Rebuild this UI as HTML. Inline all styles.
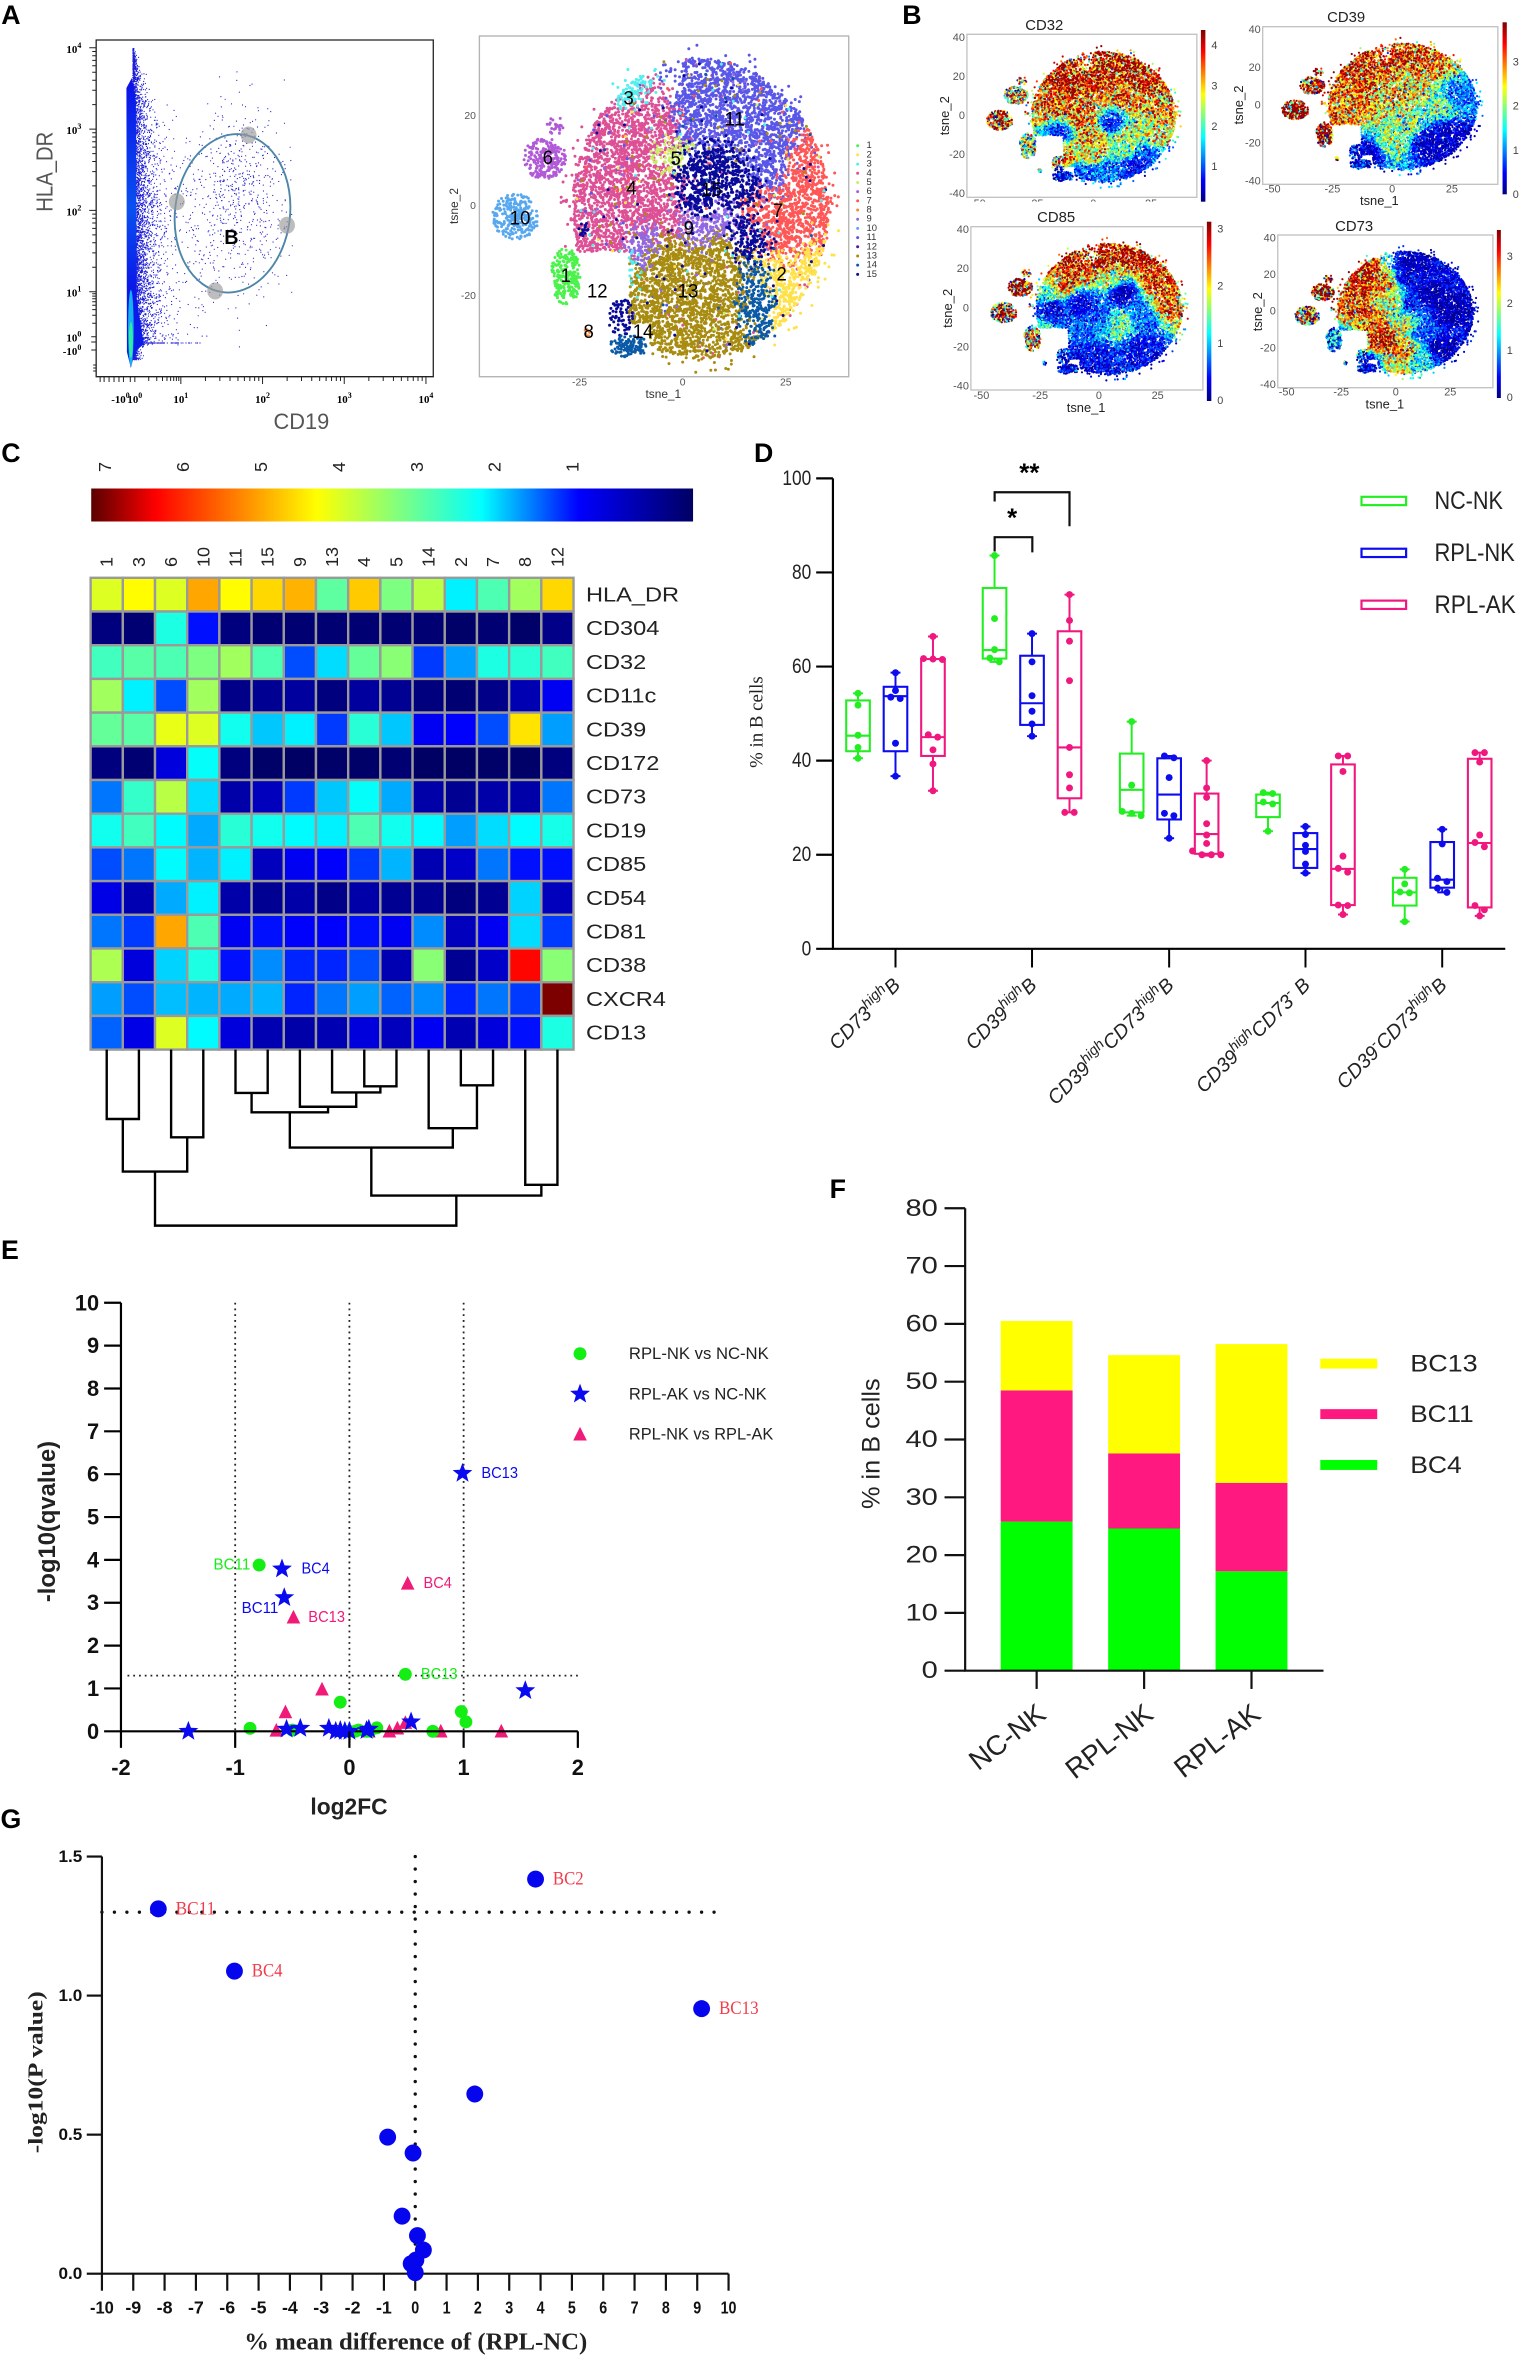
<!DOCTYPE html>
<html lang="en">
<head>
<meta charset="utf-8">
<title>B cell subset analysis figure</title>
<style>
html,body{margin:0;padding:0;background:#fff}
svg{display:block}
svg text{font-family:"Liberation Sans",sans-serif}
</style>
</head>
<body>
<svg id="fig" xmlns="http://www.w3.org/2000/svg" width="1525" height="2360" viewBox="0 0 1525 2360">
<rect x="0" y="0" width="1525" height="2360" fill="#fff"/>
<g id="panelA" transform="scale(.9915 1)"></g>
<g id="panelB" transform="translate(900 0) scale(.9915 1) translate(-900 0)"></g>
<g id="panelC" transform="scale(.9915 1)"></g>
<g id="panelD" transform="translate(720 440) scale(.9915) translate(-720 -440)"></g>
<g id="panelE" transform="translate(0 1230) scale(.9915) translate(0 -1230)"></g>
<g id="panelF" transform="translate(820 1170) scale(.9915) translate(-820 -1170)"></g>
<g id="panelG" transform="scale(.9915 1)"></g>
</svg>
<script>
/* ---------- data: panel A ---------- */
const tsneClusterIds = ['1','2','3','4','5','6','7','8','9','10','11','12','13','14','15'];
const tsneClusterColors = ['#4cf24c','#ffe24a','#4ff0f0','#de5096','#c9ee62','#b05ad8','#ff5656','#f08a40','#9068e6','#58a8f0','#5a56e8','#4a1a9a','#a88c10','#0a5aa8','#0a0a9a'];
/* seed regions inside the main t-SNE cloud: cluster index, tsne_1, tsne_2.
   Individual dots are a seeded texture sampled around these estimated regions. */
const tsneSeeds = [[10,12.6,20.7],[10,5.7,29.6],[10,19.6,16.3],[10,4.3,20],[10,14,29],[10,22,8],
[3,-13.7,6.7],[3,-16.5,14],[3,-12.4,-2.2],[3,-20.7,1.5],[3,-5.4,3.7],[3,-11,19.3],[3,-19.3,-8.1],[3,-4,-4],[3,-6,17],
[2,-13,26.7],[2,-16.5,-13.3],[4,-3.3,11.9],
[14,7,6.7],[14,14,3.7],[14,3.6,3.7],[14,15.4,-5.2],
[6,24.4,-.7],[6,29.3,6.7],[6,26.5,-7.4],[6,18.2,-1.5],[1,24.4,-16.3],[1,29.3,-13.3],
[12,.8,-18.5],[12,1.5,-25],[12,-8.2,-19.3],[12,9.9,-17],[12,-4,-9.6],[12,8.5,-11],
[8,2.9,-4.4],[8,10.6,-3.7],[8,-8.9,-7.4],[13,18.2,-18.5]];
/* relative region tightness per cluster index (higher means a smaller region) */
const tsneClusterTightness = [1,1.1,2.4,1,3.2,1,1,1,1.7,1,1,1,1,1.7,1.1];
/* separated islands: cluster index, tsne_1, tsne_2, radius x, radius y, count */
const tsneIslands = [[9,-40.5,-2.2,5.5,4.8,260],[5,-33.5,10.7,5,4.3,220],[5,-31,18,2,2,25],[0,-28.3,-15.5,3.5,6,240],
[13,-13,-31,4.5,2.5,120],[14,-15,-24.5,3,4,70],[7,-23,-28,.8,.8,10],[14,-24,-5,1.2,1.5,14]];
const tsneClusterLabels = [['1',-28.3,-15.5],['2',24,-15.2],['3',-13.1,23.9],['4',-12.4,3.9],['5',-1.7,10.5],['6',-32.7,10.7],['7',23.1,-1.1],['8',-22.8,-27.9],['9',1.5,-5],['10',-39.4,-2.7],['11',12.6,19.3],['12',-20.7,-18.9],['13',1.3,-18.9],['14',-9.6,-27.9],['15',7,3.6]];
const tsneAxisTicksX = [-25,0,25];
const tsneAxisTicksY = [20,0,-20];
const flowDecades = [-1,0,1,2,3,4];
/* ---------- data: panel B, expression anchors (tsne_1, tsne_2, scaled expression) ---------- */
const cd32Field = [[12,28,.9],[25,18,.84],[-5,22,.8],[-10,20,.9],[-20,5,.76],[15,10,.72],[28,5,.66],[-5,0,.72],[-15,-9,.15],[8,-4,.12],[0,-10,.66],[15,-10,.52],[28,-10,.52],[-13,-20,.68],[0,-20,.56],[15,-17,.42],[22,-20,.15],[18,-25,.1],[-5,-30,.15],[5,-28,.2],[-13,-32,.05],[-40.5,-2,.68],[-33.5,10.7,.52],[-28.3,-15,.42]];
const cd39Field = [[5,28,.8],[15,25,.75],[0,5,.62],[20,0,.42],[25,-15,.05],[28,5,.2],[-10,-25,.05],[15,-20,.05],[0,-20,.45],[-15,10,.72],[-15,25,.88],[8,12,.6],[-22,0,.68],[5,-10,.45],[22,-25,.05],[-40.5,-2,.98],[-33.5,10.7,.78],[-28.3,-15,.72]];
const cd85Field = [[0,25,.88],[15,28,.92],[25,15,.82],[30,0,.7],[-10,22,.85],[-15,12,.78],[-20,8,.4],[-20,0,.08],[-8,3,.08],[0,-5,.15],[8,-8,.42],[10,8,.05],[20,-5,.2],[20,-20,.08],[0,-25,.1],[-12,-30,.05],[5,15,.5],[-40.5,-2,.66],[-33.5,10.7,.82],[-28.3,-15,.48]];
const cd73Field = [[-15,20,.88],[-18,5,.74],[-5,15,.68],[0,5,.48],[-10,-5,.7],[-5,-15,.82],[5,-20,.68],[12,-25,.3],[0,-28,.55],[-12,-30,.05],[8,25,.03],[15,10,.02],[25,0,.02],[20,-20,.02],[6,5,.12],[5,18,.08],[3,-8,.5],[12,-12,.15],[-40.5,-2,.58],[-33.5,10.7,.92],[-28.3,-15,.2]];
/* ---------- data: panel C ---------- */
const heatColumns = ['1','3','6','10','11','15','9','13','4','5','14','2','7','8','12'];
const heatRows = ['HLA_DR','CD304','CD32','CD11c','CD39','CD172','CD73','CD19','CD85','CD54','CD81','CD38','CXCR4','CD13'];
const heatValues = [
[4.0,4.3,4.0,5.0,4.3,4.6,4.9,2.95,4.7,3.2,3.7,2.1,2.8,3.5,4.6],
[-.3,-.4,2.4,1.0,-.3,-.4,-.4,-.4,-.4,-.4,-.4,-.5,-.4,-.5,-.2],
[2.7,2.9,2.8,3.2,3.5,2.8,1.3,2.0,3.0,3.3,1.2,1.7,2.4,2.5,2.7],
[3.5,2.1,1.3,3.5,-.2,-.1,0,-.3,0,-.1,-.3,-.4,-.2,.2,.8],
[3.0,2.9,4.1,4.0,2.3,1.9,2.1,1.2,2.5,1.9,.8,.9,1.3,4.5,1.7],
[-.3,-.4,.6,2.2,-.3,-.5,-.6,-.5,-.5,-.4,-.6,-.6,-.5,-.5,-.3],
[1.5,2.6,3.7,2.0,.1,.3,1.2,1.9,2.2,1.75,.1,-.1,.1,.1,1.5],
[2.3,2.7,2.15,1.75,2.5,2.3,2.15,2.1,2.8,2.3,2.15,1.7,2.0,2.15,2.35],
[1.3,1.5,2.15,1.8,2.1,.3,.8,.9,1.2,1.8,.2,.4,1.5,1.0,1.0],
[.7,.2,1.75,2.1,.1,-.1,.1,-.2,.1,-.1,-.1,-.3,-.1,1.95,.3],
[1.5,1.2,5.0,2.8,.8,1.0,.9,.9,1.0,.8,1.6,.3,.8,2.0,1.2],
[3.6,.6,1.95,2.4,1.0,1.6,1.1,1.1,1.3,.2,3.3,-.1,.4,6.3,3.3],
[1.7,1.3,1.85,1.8,1.75,1.8,1.1,1.5,1.7,1.4,1.6,1.1,1.5,1.2,7.0],
[1.4,.7,4.0,2.15,.6,.2,.1,.2,.6,.3,.8,.2,.6,1.0,2.4]];
const heatLegendTicks = [7,6,5,4,3,2,1];
/* dendrogram merges: left node, right node, distance (node 15+i is merge i) */
const dendroMerges = [[0,1,136],[2,3,172],[15,16,239],[4,5,85],[8,9,72],[7,19,84],[6,20,112],[18,21,123],[11,12,70],[10,23,154],[22,24,192],[13,14,265],[25,26,286],[17,27,345]];
/* ---------- data: panel D ---------- */
const boxCategories = ['CD73^high^B','CD39^high^B','CD39^high^CD73^high^B','CD39^high^CD73^-^ B','CD39^-^CD73^high^B'];
const boxGroups = ['NC-NK','RPL-NK','RPL-AK'];
const boxTicks = [0,20,40,60,80,100];
/* per category, per group: whisker low, q1, median, q3, whisker high */
const boxStats = [
[[40.5,42,45.3,52.8,54.3],[36.7,42,53.7,55.7,58.7],[33.6,41,45,61.6,66.4]],
[[61,61.7,63.5,76.7,83.6],[45.2,47.6,52.2,62.3,67],[29,32,42.8,67.5,75.3]],
[[28.3,29,33.8,41.5,48.3],[23.5,27.5,32.8,40.5,41],[19.8,20.2,24.4,33,40]],
[[25,28,31,32.8,33.2],[16.1,17.2,21.2,24.6,26],[7.3,9.3,17,39.2,41]],
[[5.8,9.2,12,15.1,16.9],[12,13,14.7,22.7,25.4],[7,8.8,22.5,40.4,41.7]]];
const boxPoints = [
[[54.3,51.8,45.4,42.8,40.5],[58.7,54.9,53.5,53.2,43.7,36.7],[66.4,61.7,61.6,61.5,45.5,45,42.3,39.3,33.6]],
[[83.6,70.2,63.6,61.8,61],[67,61,53.8,50.5,47.8,45.2],[75.3,69.8,65.4,57,42.8,37,34.2,29,29]],
[[48.3,34.8,29.2,28.8,28.3],[41,40.6,36.4,28.8,28.3,23.5],[40,34.2,32.2,26.6,24.2,22.4,20.8,20,20,20]],
[[33.2,33,31.2,30.8,25],[26,24.3,22,20.7,18,16.1],[41,41,37.7,19.7,17.1,16.3,9.3,9.2,7.3]],
[[16.9,13.8,12.1,11.9,5.8],[25.4,22.3,15,14.3,12.9,12],[41.7,41.7,39.7,24.2,22.6,21.7,9.2,8.3,7]]];
/* ---------- data: panel E ---------- */
const volcanoTicksX = [-2,-1,0,1,2];
const volcanoTicksY = [0,1,2,3,4,5,6,7,8,9,10];
const volcanoCutoffsX = [-1,0,1];
const volcanoCutoffY = 1.3;
const greenX = [-.79,-.87,-.08,.49,.98,1.02,.73,.24,.08,.05,-.5,.18,0,.15];
const greenY = [3.88,.07,.68,1.33,.46,.22,0,.08,.03,0,.03,0,0,0];
const starX = [.99,-.59,-.57,1.54,.54,-1.41,-.55,-.43,-.18,-.12,-.08,-.04,0,.15,.17];
const starY = [6.02,3.79,3.12,.95,.22,0,.05,.07,.07,0,.02,0,0,.02,.05];
const triX = [.51,-.49,-.24,-.56,.49,.42,.35,.8,1.33,-.64,.17];
const triY = [3.45,2.66,.98,.45,.2,.07,0,0,0,.02,0];
const greenLabels = [[0,'BC11','end',-9,0],[3,'BC13','start',15.6,0]];
const starLabels = [[1,'BC4','start',19.6,0],[0,'BC13','start',19,0],[2,'BC11','end',-6,11]];
const triLabels = [[0,'BC4','start',16,0],[1,'BC13','start',15,0]];
/* ---------- data: panel F ---------- */
const stackCategories = ['NC-NK','RPL-NK','RPL-AK'];
const stackBC4 = [25.8,24.6,17.2];
const stackBC11 = [22.7,13,15.3];
const stackBC13 = [12,17,24];
const stackTicks = [0,10,20,30,40,50,60,70,80];
/* ---------- data: panel G ---------- */
const meanDiffX = [3.84,-8.2,-5.77,9.14,1.9,-.88,-.07,-.42,.07,.26,.02,-.13,0];
const meanDiffY = [1.419,1.312,1.088,.953,.646,.491,.434,.207,.137,.085,.049,.036,.004];
const meanDiffLabels = ['BC2','BC11','BC4','BC13'];
const meanDiffTicksX = [-10,-9,-8,-7,-6,-5,-4,-3,-2,-1,0,1,2,3,4,5,6,7,8,9,10];
const meanDiffTicksY = ['0.0','0.5','1.0','1.5'];

/* ---------- helpers ---------- */
const NS = 'http://www.w3.org/2000/svg';
const fig = document.getElementById('fig');
function mk(tag, attrs, parent) {
  const e = document.createElementNS(NS, tag);
  for (const k in attrs) e.setAttribute(k, attrs[k]);
  parent.appendChild(e);
  return e;
}
function T(parent, str, x, y, o) {
  o = o || {};
  const a = {x: x, y: y, 'font-size': o.size || 12, fill: o.fill || '#000', 'text-anchor': o.anchor || 'middle', 'dominant-baseline': o.base || 'central'};
  if (o.weight) a['font-weight'] = o.weight;
  if (o.style) a['font-style'] = o.style;
  if (o.family) a['style'] = 'font-family:' + o.family;
  if (o.width) { a.textLength = o.width; a.lengthAdjust = 'spacingAndGlyphs'; }
  if (o.rot) a.transform = 'rotate(' + o.rot + ' ' + x + ' ' + y + ')';
  const e = mk('text', a, parent);
  e.textContent = str;
  return e;
}
function seeded(s) {
  return function () {
    s |= 0; s = s + 0x6D2B79F5 | 0;
    let t = Math.imul(s ^ s >>> 15, 1 | s);
    t = t + Math.imul(t ^ t >>> 7, 61 | t) ^ t;
    return ((t ^ t >>> 14) >>> 0) / 4294967296;
  };
}
const SERIF = '"Liberation Serif",serif';
const pA = document.getElementById('panelA'), pB = document.getElementById('panelB'), pC = document.getElementById('panelC'),
      pD = document.getElementById('panelD'), pE = document.getElementById('panelE'), pF = document.getElementById('panelF'), pG = document.getElementById('panelG');
function letter(parent, ch, x, y) {
  const e = T(parent, ch, x, y, {size: 27, weight: 'bold'});
  
  
}
letter(pA, 'A', 11, 15); letter(pB, 'B', 912, 15); letter(pC, 'C', 11, 453);
letter(pD, 'D', 764, 453); letter(pE, 'E', 10, 1250); letter(pF, 'F', 838, 1189); letter(pG, 'G', 11, 1819);

/* ---------- shared t-SNE embedding texture (seeded, not read dot by dot) ---------- */
const rnd = seeded(20240);
const tsnePts = [];
(function () {
  const cx = 4.3, cy = -.4, rx = 32, ry = 34.4;
  let made = 0;
  while (made < 9500) {
    const ang = rnd() * Math.PI * 2, r = Math.sqrt(rnd()) * (rnd() < .93 ? .97 : 1.06);
    const x = cx + Math.cos(ang) * r * rx, y = cy + Math.sin(ang) * r * ry;
    if (y < -10 && x < -13) continue;
    if (y < -26 && x < -8) continue;
    if (y > 23 && x < 0 && !(x < -7 && x > -17 && y < 29) && rnd() < .7) continue;
    const qx = x + (rnd() - .5) * 5, qy = y + (rnd() - .5) * 5;
    let best = 0, bd = 1e9;
    tsneSeeds.forEach(function (s) {
      const d = ((s[1] - qx) * (s[1] - qx) + (s[2] - qy) * (s[2] - qy)) * tsneClusterTightness[s[0]];
      if (d < bd) { bd = d; best = s[0]; }
    });
    if (rnd() < .06) best = tsneSeeds[Math.floor(rnd() * tsneSeeds.length)][0];
    tsnePts.push([x, y, best, 0]);
    made++;
  }
  tsneIslands.forEach(function (c) {
    for (let i = 0; i < c[5]; i++) {
      const a = rnd() * Math.PI * 2, r = Math.pow(rnd(), .6) * 1.05;
      tsnePts.push([c[1] + Math.cos(a) * r * c[3], c[2] + Math.sin(a) * r * c[4], c[0], 1]);
    }
  });
})();

/* ---------- panel A: flow gate ---------- */
const flowG = mk('g', {}, pA);


function flowX(d) { return d >= 1 ? 182.4 + (d - 1) * 82.4 : d >= 0 ? 136 + d * 46.4 : 136 + d * 11.5; }
function flowY(d) { return d >= 1 ? 291.7 - (d - 1) * 81.3 : d >= 0 ? 336.7 - d * 45 : 336.7 - d * 13.3; }
(function () {
  const r = seeded(77);
  const gradDefs = mk('defs', {}, flowG);
  const lg = mk('linearGradient', {id: 'flowCol', x1: 0, y1: 0, x2: 0, y2: 1}, gradDefs);
  [[0, '#0a10e8'], [.45, '#0a50f0'], [.72, '#0a18e8'], [1, '#0a20e8']].forEach(function (s) { mk('stop', {offset: s[0], 'stop-color': s[1]}, lg); });
  let d = '';
  for (let i = 0; i < 4200; i++) {
    const y = 48 + Math.pow(r(), .8) * 312;
    const taper = Math.min(1, (y - 45) / 100);
    const w = (y > 345 ? 2 : 9.5) * taper;
    const x = 134 + (-Math.log(1 - r() * .998)) * w;
    d += 'M' + x.toFixed(1) + ' ' + y.toFixed(1) + 'h.01';
  }
  for (let i = 0; i < 70; i++) d += 'M' + (147 + Math.pow(r(), 2) * 55).toFixed(1) + ' 343h.01';
  for (let i = 0; i < 45; i++) d += 'M' + (165 + r() * 45).toFixed(1) + ' ' + (110 + r() * 230).toFixed(1) + 'h.01';
  const streak = mk('path', {d: d, stroke: '#1c1cd8', 'stroke-width': 1.2, 'stroke-linecap': 'round', fill: 'none'}, flowG);
  
  
  const col = mk('path', {d: 'M127.5 88 L133 78 L137 100 L138 300 L145 344 L136 352 L132 368 L128 352 Z', fill: 'url(#flowCol)'}, flowG);
  
  
  const c1 = mk('ellipse', {cx: 132, cy: 328, rx: 2.8, ry: 38, fill: '#18b0f0'}, flowG);
  
  
  const c2 = mk('ellipse', {cx: 132, cy: 340, rx: 2, ry: 18, fill: '#30f0a0'}, flowG);
  
  
  let gd = '';
  const g = function () { return (r() + r() + r() - 1.5) / .5; };
  for (let i = 0; i < 340; i++) gd += 'M' + (243 + g() * 20).toFixed(1) + ' ' + (172 + g() * 38).toFixed(1) + 'h.01';
  for (let i = 0; i < 320; i++) gd += 'M' + (228 + g() * 30).toFixed(1) + ' ' + (228 + g() * 40).toFixed(1) + 'h.01';
  for (let i = 0; i < 30; i++) gd += 'M' + (180 + r() * 90).toFixed(1) + ' ' + (100 + r() * 250).toFixed(1) + 'h.01';
  const gated = mk('path', {d: gd, stroke: '#2424c8', 'stroke-width': 1.2, 'stroke-linecap': 'round', fill: 'none'}, flowG);
  
  
  const box = mk('path', {d: 'M97 376.7V40H437V376.7Z', fill: 'none', stroke: '#222', 'stroke-width': 1.3}, flowG);
  
  
  const gate = mk('ellipse', {cx: 234.5, cy: 213.3, rx: 58, ry: 79.5, fill: 'none', stroke: '#4d86a8', 'stroke-width': 1.9, transform: 'rotate(7 234.5 213.3)'}, flowG);
  
  
  [[250.7, 135], [217, 291], [178.3, 201.7], [289.5, 225.3]].forEach(function (h, i) {
    const e = mk('ellipse', {cx: h[0], cy: h[1], rx: 8, ry: 8.5, fill: '#9a9a9a', 'fill-opacity': .65}, flowG);
    
    
  });
  const bl = T(flowG, 'B', 233.4, 238, {size: 20, weight: 'bold'});
  
  
  /* axis ticks */
  let tk = '';
  for (let dec = 0; dec < 4; dec++) for (let k = 2; k <= 10; k++) {
    const v = dec + Math.log10(k);
    const x = flowX(v), y = flowY(v);
    const len = k === 10 ? 7 : 4;
    tk += 'M' + x.toFixed(1) + ' 377v' + len + 'M97 ' + y.toFixed(1) + 'h-' + len;
  }
  [-1, -.4, 0].forEach(function (v) { tk += 'M' + flowX(v).toFixed(1) + ' 377v5M97 ' + flowY(v).toFixed(1) + 'h-5'; });
  [365, 368, 371].forEach(function (y) { tk += 'M97 ' + y + 'h-3'; });
  [101, 105, 110, 115, 120].forEach(function (x) { tk += 'M' + x + ' 377v5'; });
  const ticks = mk('path', {d: tk, stroke: '#222', 'stroke-width': 1, fill: 'none'}, flowG);
  
  
  flowDecades.forEach(function (d) {
    const lab = (d < 0 ? '-' : '') + '10', p = d < 0 ? 0 : d;
    const xt = mk('text', {x: flowX(d) + (d < 0 ? -3 : 0), y: 403, 'font-size': 11, 'font-weight': 'bold', 'text-anchor': 'middle', style: 'font-family:' + SERIF}, flowG);
    xt.textContent = lab;
    const xs = mk('tspan', {dy: -5, 'font-size': 8}, xt); xs.textContent = p;
    
    
    const yt = mk('text', {x: 82, y: flowY(d) + 5, 'font-size': 11, 'font-weight': 'bold', 'text-anchor': 'end', style: 'font-family:' + SERIF}, flowG);
    yt.textContent = lab;
    const ys = mk('tspan', {dy: -5, 'font-size': 8}, yt); ys.textContent = p;
    
    
  });
  const xl = T(flowG, 'CD19', 304, 421.7, {size: 22, fill: '#555'});
  
  
  const yl = T(flowG, 'HLA_DR', 45, 171.7, {size: 23, fill: '#555', rot: -90, width: 80});
  
  
})();

/* ---------- panel A: t-SNE clusters ---------- */
const tsneA = mk('g', {}, pA);


function ax(v) { return 688.5 + 4.16 * v; }
function ay(v) { return 206.7 - 4.5 * v; }
(function () {
  const frame = mk('rect', {x: 483.5, y: 36, width: 372.5, height: 340.7, fill: 'none', stroke: '#b5b5b5', 'stroke-width': 1.4}, tsneA);
  
  
  const paths = tsneClusterIds.map(function () { return ''; });
  tsnePts.forEach(function (p) { paths[p[2]] += 'M' + ax(p[0]).toFixed(1) + ' ' + ay(p[1]).toFixed(1) + 'h.01'; });
  [3, 10, 6, 12, 1, 4, 8, 14, 13, 2, 5, 9, 0, 7, 11].forEach(function (i) {
    const e = mk('path', {d: paths[i], stroke: tsneClusterColors[i], 'stroke-width': 3, 'stroke-linecap': 'round', fill: 'none'}, tsneA);
    
    
  });
  tsneAxisTicksX.forEach(function (v) {
    const e = T(tsneA, String(v), ax(v), 383, {size: 10.5, fill: '#555'});
    
    
  });
  tsneAxisTicksY.forEach(function (v) {
    const e = T(tsneA, String(v), 480, ay(v), {size: 10.5, fill: '#555', anchor: 'end'});
    
    
  });
  const x1 = T(tsneA, 'tsne_1', 669, 394, {size: 12, fill: '#333'});
  
  
  const y1 = T(tsneA, 'tsne_2', 458, 206, {size: 12, fill: '#333', rot: -90});
  
  
  tsneClusterLabels.forEach(function (l) {
    const e = T(tsneA, l[0], ax(l[1]), ay(l[2]), {size: 19, fill: '#000', width: l[0].length * 10.4});
    
    
  });
  tsneClusterIds.forEach(function (id, i) {
    const y = 145.7 + i * 9.19;
    const d = mk('circle', {cx: 865, cy: y, r: 1.5, fill: tsneClusterColors[i]}, tsneA);
    
    
    const t = T(tsneA, id, 874, y, {size: 9.5, fill: '#333', anchor: 'start'});
    
    
  });
})();

/* ---------- panel B: marker maps ---------- */
function jet(t) {
  t = Math.max(0, Math.min(1, t));
  const s = [[0, 0, 0, 127], [.125, 0, 0, 255], [.375, 0, 255, 255], [.625, 255, 255, 0], [.875, 255, 0, 0], [1, 127, 0, 0]];
  for (let i = 1; i < s.length; i++) if (t <= s[i][0]) {
    const f = (t - s[i - 1][0]) / (s[i][0] - s[i - 1][0]);
    return 'rgb(' + [1, 2, 3].map(function (k) { return Math.round(s[i - 1][k] + f * (s[i][k] - s[i - 1][k])); }).join(',') + ')';
  }
  return 'rgb(127,0,0)';
}
function fieldAt(field, x, y) {
  let n = 0, w = 0;
  for (let i = 0; i < field.length; i++) {
    const d = (field[i][0] - x) * (field[i][0] - x) + (field[i][1] - y) * (field[i][1] - y) + 1.5;
    const k = 1 / (d * d);
    n += k * field[i][2]; w += k;
  }
  return n / w;
}
const markerPanels = [
 {name: 'CD32', field: cd32Field, box: [967.5, 34.3, 1199.4, 197.3], x0: 1095, xs: 2.33, y0: 116, ys: 1.95, cb: [1203.5, 30, 1208, 201.7], cbTicks: [4, 3, 2, 1], cbZero: 207.5, cbStep: 40.33, title: [1045.5, 25.7], xt: 204, xTitle: null, yTitle: [945, 115.7], ymask: 201.7},
 {name: 'CD39', field: cd39Field, box: [1265.8, 26.7, 1503, 184.3], x0: 1396.4, xs: 2.41, y0: 105.7, ys: 1.89, cb: [1507.7, 22.3, 1512, 194.3], cbTicks: [3, 2, 1, 0], cbZero: 195, cbStep: 44.2, title: [1350, 17.3], xt: 189.5, xTitle: [1383.5, 200.7], yTitle: [1241.6, 105]},
 {name: 'CD85', field: cd85Field, box: [971.5, 226.7, 1205.5, 390], x0: 1100.6, xs: 2.37, y0: 308.3, ys: 1.96, cb: [1209.5, 221.7, 1214, 401], cbTicks: [3, 2, 1, 0], cbZero: 401, cbStep: 57.2, title: [1057.5, 217.3], xt: 396, xTitle: [1087.7, 407.3], yTitle: [948, 308.3]},
 {name: 'CD73', field: cd73Field, box: [1281, 235, 1498, 387.7], x0: 1400, xs: 2.2, y0: 311.7, ys: 1.83, cb: [1502, 230, 1506, 398], cbTicks: [3, 2, 1, 0], cbZero: 398, cbStep: 47, title: [1358, 226.7], xt: 392.7, xTitle: [1389, 404], yTitle: [1260.5, 311.7]}
];
const markerTicksX = [-50, -25, 0, 25];
const markerTicksY = [40, 20, 0, -20, -40];
markerPanels.forEach(function (m, mi) {
  const key = m.name.toLowerCase();
  const g = mk('g', {}, pB);
  
  
  const fr = mk('rect', {x: m.box[0], y: m.box[1], width: m.box[2] - m.box[0], height: m.box[3] - m.box[1], fill: 'none', stroke: '#c0c0c0', 'stroke-width': 1.3}, g);
  
  
  const r = seeded(500 + mi), levels = 20, batches = 3, buckets = [];
  for (let i = 0; i < levels * batches; i++) buckets.push('');
  tsnePts.forEach(function (p, pi) {
    const base = fieldAt(m.field, p[0], p[1]);
    const amp = p[3] ? .9 : .48;
    const n = (r() + r() + r() - 1.5) * amp * (.22 + base);
    const v = Math.max(0, Math.min(.999, base + n));
    const idx = Math.floor(v * levels) + levels * (pi % batches);
    buckets[idx] += 'M' + (m.x0 + m.xs * p[0]).toFixed(1) + ' ' + (m.y0 - m.ys * p[1]).toFixed(1) + 'h.01';
  });
  for (let b = 0; b < batches; b++) for (let l = 0; l < levels; l++) {
    const d = buckets[l + b * levels];
    if (!d) continue;
    const e = mk('path', {d: d, stroke: jet((l + .5) / levels), 'stroke-width': 2.2, 'stroke-linecap': 'round', fill: 'none'}, g);
    
    
  }
  const ti = T(g, m.name, m.title[0], m.title[1], {size: 15, fill: '#222'});
  
  
  markerTicksX.forEach(function (v) {
    const e = T(g, String(v), m.x0 + m.xs * v, m.xt, {size: 11, fill: '#555'});
    
    
  });
  markerTicksY.forEach(function (v) {
    const e = T(g, String(v), m.box[0] - 2, m.y0 - m.ys * v, {size: 11, fill: '#555', anchor: 'end'});
    
    
  });
  if (m.ymask) {
    const mask = mk('rect', {x: m.box[0] - 5, y: m.ymask, width: m.box[2] - m.box[0] + 20, height: 14, fill: '#fff'}, g);
    
    
  }
  if (m.xTitle) {
    const e = T(g, 'tsne_1', m.xTitle[0], m.xTitle[1], {size: 13, fill: '#222'});
    
    
  }
  const yt = T(g, 'tsne_2', m.yTitle[0], m.yTitle[1], {size: 13, fill: '#222', rot: -90});
  
  
  const gid = 'jet' + mi;
  const defs = mk('defs', {}, g);
  const lg = mk('linearGradient', {id: gid, x1: 0, y1: 1, x2: 0, y2: 0}, defs);
  for (let i = 0; i <= 8; i++) mk('stop', {offset: i / 8, 'stop-color': jet(i / 8)}, lg);
  const cb = mk('rect', {x: m.cb[0], y: m.cb[1], width: m.cb[2] - m.cb[0], height: m.cb[3] - m.cb[1], fill: 'url(#' + gid + ')'}, g);
  
  
  m.cbTicks.forEach(function (v) {
    const e = T(g, String(v), m.cb[2] + 6, m.cbZero - m.cbStep * v, {size: 11, fill: '#444', anchor: 'start'});
    
    
  });
});

/* ---------- panel C: heatmap ---------- */
const heatStops = [[0, 90, 0, 0], [.108, 255, 0, 0], [.375, 255, 255, 0], [.649, 0, 255, 255], [.81, 0, 0, 255], [1, 0, 0, 100]];
function heatFrac(v) { return .023 + (7 - v) * .1295; }
function heatColor(v) {
  const t = Math.max(0, Math.min(1, heatFrac(v)));
  for (let i = 1; i < heatStops.length; i++) if (t <= heatStops[i][0]) {
    const f = (t - heatStops[i - 1][0]) / (heatStops[i][0] - heatStops[i - 1][0]);
    return 'rgb(' + [1, 2, 3].map(function (k) { return Math.round(heatStops[i - 1][k] + f * (heatStops[i][k] - heatStops[i - 1][k])); }).join(',') + ')';
  }
  return 'rgb(0,0,100)';
}
(function () {
  const x0 = 91.4, y0 = 577.8, cw = 32.47, ch = 33.7;
  function cx(i) { return x0 + (i + .5) * cw; }
  const defs = mk('defs', {}, pC);
  const lg = mk('linearGradient', {id: 'heatLegend', x1: 0, y1: 0, x2: 1, y2: 0}, defs);
  heatStops.forEach(function (s) { mk('stop', {offset: s[0], 'stop-color': 'rgb(' + s[1] + ',' + s[2] + ',' + s[3] + ')'}, lg); });
  const bar = mk('rect', {x: 92, y: 488.5, width: 607, height: 33, fill: 'url(#heatLegend)'}, pC);
  
  
  heatLegendTicks.forEach(function (v) {
    const e = T(pC, String(v), 92 + 607 * heatFrac(v), 467, {size: 18, fill: '#222', rot: -90});
    
    
  });
  heatColumns.forEach(function (c, i) {
    const e = T(pC, c, cx(i), 567, {size: 18, fill: '#222', rot: -90, anchor: 'start'});
    
    
  });
  heatRows.forEach(function (rowName, r) {
    heatValues[r].forEach(function (v, c) {
      const cell = mk('rect', {x: x0 + c * cw, y: y0 + r * ch, width: cw, height: ch, fill: heatColor(v), stroke: '#9a9a9a', 'stroke-width': 2.4}, pC);
      
      
    });
    const y = y0 + (r + .5) * ch;
    const e = T(pC, rowName, 0, 0, {size: 20, fill: '#222', anchor: 'start'});
    e.setAttribute('transform', 'translate(591 ' + y + ') scale(1.19 1)');
    
    
  });
  /* dendrogram */
  const base = y0 + 14 * ch;
  const nodes = heatColumns.map(function (c, i) { return {x: cx(i), h: 0}; });
  function dy(h) { return base + h / 1.96; }
  dendroMerges.forEach(function (m, i) {
    const a = nodes[m[0]], b = nodes[m[1]], h = m[2];
    const e = mk('path', {d: 'M' + a.x + ' ' + dy(a.h) + 'V' + dy(h) + 'H' + b.x + 'V' + dy(b.h), fill: 'none', stroke: '#000', 'stroke-width': 2.4}, pC);
    
    
    nodes.push({x: (a.x + b.x) / 2, h: h});
  });
})();

/* ---------- panel D: box plots ---------- */
(function () {
  const colors = ['#22ee22', '#0c0cee', '#f0187f'];
  const axisX = 833.9, y = function (v) { return 953.2 - v * 4.745; };
  const groupX = [897, 1034.7, 1173, 1310.5, 1448.4];
  const off = 37.8, bw = 23.8;
  boxCategories.forEach(function (cat, ci) {
    boxGroups.forEach(function (gr, gi) {
      const s = boxStats[ci][gi], x = groupX[ci] + (gi - 1) * off, col = colors[gi];
      const g = mk('g', {}, pD);
      
      
      const wh = 'M' + x + ' ' + y(s[3]) + 'V' + y(s[4]) + 'M' + (x - 5) + ' ' + y(s[4]) + 'h10M' + x + ' ' + y(s[1]) + 'V' + y(s[0]) + 'M' + (x - 5) + ' ' + y(s[0]) + 'h10';
      mk('path', {d: wh, stroke: col, 'stroke-width': 2, fill: 'none'}, g);
      mk('rect', {x: x - bw / 2, y: y(s[3]), width: bw, height: y(s[1]) - y(s[3]), fill: 'none', stroke: col, 'stroke-width': 2.1}, g);
      mk('path', {d: 'M' + (x - bw / 2) + ' ' + y(s[2]) + 'h' + bw, stroke: col, 'stroke-width': 2.1, fill: 'none'}, g);
      const pts = boxPoints[ci][gi].slice().sort(function (a, b) { return b - a; });
      let i = 0;
      while (i < pts.length) {
        let j = i;
        while (j + 1 < pts.length && pts[i] - pts[j + 1] < 1.2) j++;
        const n = j - i + 1;
        for (let k = i; k <= j; k++) {
          const dot = mk('circle', {cx: x + (k - i - (n - 1) / 2) * 9.5, cy: y(pts[k]), r: 3.5, fill: col}, g);
          
          
        }
        i = j + 1;
      }
    });
    const tick = mk('path', {d: 'M' + groupX[ci] + ' 953.2V972', stroke: '#000', 'stroke-width': 2, fill: 'none'}, pD);
    
    
    const ax = groupX[ci] + 6, ay = 991;
    const tx = mk('text', {x: ax, y: ay, 'font-size': 20, 'font-style': 'italic', fill: '#222', 'text-anchor': 'end', transform: 'rotate(-45 ' + ax + ' ' + ay + ')'}, pD);
    
    
    const parts = cat.split('^');
    let pend = 0;
    parts.forEach(function (seg, pi) {
      const a = {};
      if (pi % 2) { a.dy = -8; a['font-size'] = 14.5; pend = 8; } else if (pend) { a.dy = pend; pend = 0; }
      const ts = mk('tspan', a, tx);
      ts.textContent = seg;
    });
  });
  const axes = mk('path', {d: 'M' + axisX + ' 478.7V953.2H1512', stroke: '#000', 'stroke-width': 2.2, fill: 'none'}, pD);
  
  
  boxTicks.forEach(function (v) {
    const t = mk('path', {d: 'M' + axisX + ' ' + y(v) + 'H817', stroke: '#000', 'stroke-width': 2.2, fill: 'none'}, pD);
    
    
    const l = T(pD, String(v), 812, y(v), {size: 21, anchor: 'end', fill: '#222', width: String(v).length * 9.7});
    
    
  });
  const yt = T(pD, '% in B cells', 757.3, 724.5, {size: 19, family: SERIF, rot: -90, fill: '#222'});
  
  
  const b1 = mk('path', {d: 'M997 502V492.7H1072.5V527', stroke: '#111', 'stroke-width': 2.2, fill: 'none'}, pD);
  
  
  const b2 = mk('path', {d: 'M997 552.5V538H1035V553.4', stroke: '#111', 'stroke-width': 2.2, fill: 'none'}, pD);
  
  
  const s1 = T(pD, '**', 1032, 474, {size: 26, weight: 'bold'});
  
  
  const s2 = T(pD, '*', 1014.6, 519, {size: 26, weight: 'bold'});
  
  
  boxGroups.forEach(function (gr, i) {
    const yy = 501.5 + i * 52.35;
    const r = mk('rect', {x: 1367, y: yy - 4.2, width: 45, height: 8.4, fill: 'none', stroke: colors[i], 'stroke-width': 2.2}, pD);
    
    
    const w = [69, 81, 82][i];
    const t = T(pD, gr, 1440.6, yy + .5, {size: 25, anchor: 'start', fill: '#222', width: w});
    
    
  });
})();

/* ---------- panel E: volcano ---------- */
(function () {
  const X = function (v) { return 352.4 + v * 115.2; }, Y = function (v) { return 1735.6 - v * 43.22; };
  const GREEN = '#14ee14', BLUE = '#0a0af0', PINK = '#f01a78';
  function starPts(cx, cy, R) {
    let s = '';
    for (let i = 0; i < 10; i++) {
      const r = i % 2 ? R * .42 : R, a = -Math.PI / 2 + i * Math.PI / 5;
      s += (cx + r * Math.cos(a)).toFixed(1) + ',' + (cy + r * Math.sin(a)).toFixed(1) + ' ';
    }
    return s;
  }
  function triPts(cx, cy, s) { return cx + ',' + (cy - s * .6) + ' ' + (cx + s * .55) + ',' + (cy + s * .5) + ' ' + (cx - s * .55) + ',' + (cy + s * .5); }
  volcanoCutoffsX.forEach(function (v) {
    const e = mk('line', {x1: X(v), x2: X(v), y1: Y(10), y2: Y(0), stroke: '#222', 'stroke-width': 1.8, 'stroke-dasharray': '1.8 4'}, pE);
    
    
  });
  const hz = mk('line', {x1: 128.6, x2: 583, y1: Y(volcanoCutoffY), y2: Y(volcanoCutoffY), stroke: '#222', 'stroke-width': 1.8, 'stroke-dasharray': '1.8 4'}, pE);
  
  
  triX.forEach(function (x, i) {
    const e = mk('polygon', {points: triPts(X(x), Y(triY[i]), 12.5), fill: PINK}, pE);
    
    
  });
  greenX.forEach(function (x, i) {
    const e = mk('circle', {cx: X(x), cy: Y(greenY[i]), r: 6.5, fill: GREEN}, pE);
    
    
  });
  const axes = mk('path', {d: 'M' + X(-2) + ' ' + Y(10) + 'V' + Y(0) + 'H' + X(2), stroke: '#000', 'stroke-width': 2.2, fill: 'none'}, pE);
  
  
  starX.forEach(function (x, i) {
    const e = mk('polygon', {points: starPts(X(x), Y(starY[i]), 10.5), fill: BLUE}, pE);
    
    
  });
  volcanoTicksX.forEach(function (v) {
    const t = mk('path', {d: 'M' + X(v) + ' ' + Y(0) + 'V1752.3', stroke: '#000', 'stroke-width': 2.2, fill: 'none'}, pE);
    
    
    const l = T(pE, String(v), X(v), 1772, {size: 22, weight: 'bold', fill: '#111'});
    
    
  });
  volcanoTicksY.forEach(function (v) {
    const t = mk('path', {d: 'M' + X(-2) + ' ' + Y(v) + 'H105', stroke: '#000', 'stroke-width': 2.2, fill: 'none'}, pE);
    
    
    const l = T(pE, String(v), 100, Y(v), {size: 22, weight: 'bold', anchor: 'end', fill: '#111'});
    
    
  });
  function labels(arr, xs, ys, col) {
    arr.forEach(function (l) {
      const e = T(pE, l[1], X(xs[l[0]]) + l[3], Y(ys[l[0]]) + l[4], {size: 16, anchor: l[2], fill: col, width: l[1].length === 4 ? 37 : 28.5});
      
      
    });
  }
  labels(greenLabels, greenX, greenY, GREEN);
  labels(starLabels, starX, starY, BLUE);
  labels(triLabels, triX, triY, PINK);
  const xt = T(pE, 'log2FC', 352, 1811.3, {size: 23, weight: 'bold', fill: '#222'});
  
  
  const yt = T(pE, '-log10(qvalue)', 48, 1524, {size: 24, weight: 'bold', rot: -90, fill: '#222'});
  
  
  const m1 = mk('circle', {cx: 585, cy: 1354.8, r: 6.5, fill: GREEN}, pE);
  
  
  const m2 = mk('polygon', {points: starPts(585, 1395.5, 10.5), fill: BLUE}, pE);
  
  
  const m3 = mk('polygon', {points: triPts(585, 1436, 12.5), fill: PINK}, pE);
  
  
  [['RPL-NK vs NC-NK', 1354.8, 141], ['RPL-AK vs NC-NK', 1395.5, 139], ['RPL-NK vs RPL-AK', 1436, 145.6]].forEach(function (l) {
    const e = T(pE, l[0], 634.3, l[1], {size: 16.8, anchor: 'start', fill: '#222', width: l[2]});
    
    
  });
})();

/* ---------- panel F: stacked bars ---------- */
(function () {
  const Y = function (v) { return 1675 - v * 5.83; };
  const xc = [1038.5, 1146.9, 1255.2], bw = 72.5;
  const layers = [['bc4', stackBC4, '#00ff00'], ['bc11', stackBC11, '#ff1880'], ['bc13', stackBC13, '#ffff00']];
  stackCategories.forEach(function (c, i) {
    let acc = 0;
    layers.forEach(function (l) {
      const v = l[1][i];
      const e = mk('rect', {x: xc[i] - bw / 2, y: Y(acc + v), width: bw, height: v * 5.83, fill: l[2]}, pF);
      
      
      acc += v;
    });
    const t = mk('path', {d: 'M' + xc[i] + ' 1675V1693.4', stroke: '#111', 'stroke-width': 2.2, fill: 'none'}, pF);
    
    
    const ax = xc[i] + 11, ay = 1722;
    const lb = T(pF, c, ax, ay, {size: 28, anchor: 'end', base: 'auto', fill: '#222', rot: -38});
    
    
  });
  const axes = mk('path', {d: 'M966.4 1208.6V1675H1327.8', stroke: '#111', 'stroke-width': 2.2, fill: 'none'}, pF);
  
  
  stackTicks.forEach(function (v) {
    const t = mk('path', {d: 'M966.4 ' + Y(v) + 'H945.6', stroke: '#111', 'stroke-width': 2.2, fill: 'none'}, pF);
    
    
    const l = T(pF, String(v), 938.8, Y(v), {size: 24.5, anchor: 'end', fill: '#222', width: String(v).length * 16.3});
    
    
  });
  const yt = T(pF, '% in B cells', 872, 1446, {size: 25.5, rot: -90, fill: '#222'});
  
  
  [['BC13', '#ffff00', 1365.3, 68], ['BC11', '#ff1880', 1416.2, 64], ['BC4', '#00ff00', 1467.5, 52]].forEach(function (l) {
    const r = mk('rect', {x: 1324.6, y: l[2] - 5, width: 57.4, height: 10, fill: l[1]}, pF);
    
    
    const t = T(pF, l[0], 1415.3, l[2] + .4, {size: 24, anchor: 'start', fill: '#222', width: l[3]});
    
    
  });
})();

/* ---------- panel G: mean difference scatter ---------- */
(function () {
  const X = function (v) { return 418.8 + v * 31.6; }, Y = function (v) { return 2273.7 - v * 278.1; };
  const h = mk('line', {x1: X(-10), x2: 722.8, y1: Y(1.3), y2: Y(1.3), stroke: '#111', 'stroke-width': 3.4, 'stroke-linecap': 'round', 'stroke-dasharray': '0 12.6'}, pG);
  
  
  const v = mk('line', {x1: X(0), x2: X(0), y1: Y(1.5), y2: Y(0), stroke: '#111', 'stroke-width': 3.4, 'stroke-linecap': 'round', 'stroke-dasharray': '0 12.5'}, pG);
  
  
  const axes = mk('path', {d: 'M' + X(-10) + ' ' + Y(1.5) + 'V' + Y(0) + 'H' + X(10), stroke: '#111', 'stroke-width': 2.2, fill: 'none'}, pG);
  
  
  meanDiffTicksX.forEach(function (t) {
    const m = mk('path', {d: 'M' + X(t) + ' ' + Y(0) + 'V2290.7', stroke: '#111', 'stroke-width': 2.2, fill: 'none'}, pG);
    
    
    const s = String(t);
    const l = T(pG, s, X(t), 2307.7, {size: 18, weight: 'bold', fill: '#111', width: s.length * 8});
    
    
  });
  meanDiffTicksY.forEach(function (t) {
    const m = mk('path', {d: 'M' + X(-10) + ' ' + Y(+t) + 'H87.5', stroke: '#111', 'stroke-width': 2.2, fill: 'none'}, pG);
    
    
    const l = T(pG, t, 83, Y(+t), {size: 17, weight: 'bold', anchor: 'end', fill: '#111', width: 24});
    
    
  });
  meanDiffX.forEach(function (x, i) {
    const e = mk('circle', {cx: X(x), cy: Y(meanDiffY[i]), r: 8.5, fill: '#0505ee'}, pG);
    
    
    if (meanDiffLabels[i]) {
      const l = T(pG, meanDiffLabels[i], X(x) + 17.5, Y(meanDiffY[i]), {size: 19, anchor: 'start', fill: '#f23c4c', family: SERIF, width: meanDiffLabels[i].length === 4 ? 40 : 31});
      
      
    }
  });
  const xt = T(pG, '% mean difference of (RPL-NC)', 419.3, 2342.7, {size: 24, weight: 'bold', family: SERIF, fill: '#222', width: 346});
  
  
  const yt = T(pG, '-log10(P value)', 36, 2072.3, {size: 21, weight: 'bold', family: SERIF, rot: -90, fill: '#222', width: 162});
  
  
})();
</script>
</body>
</html>
